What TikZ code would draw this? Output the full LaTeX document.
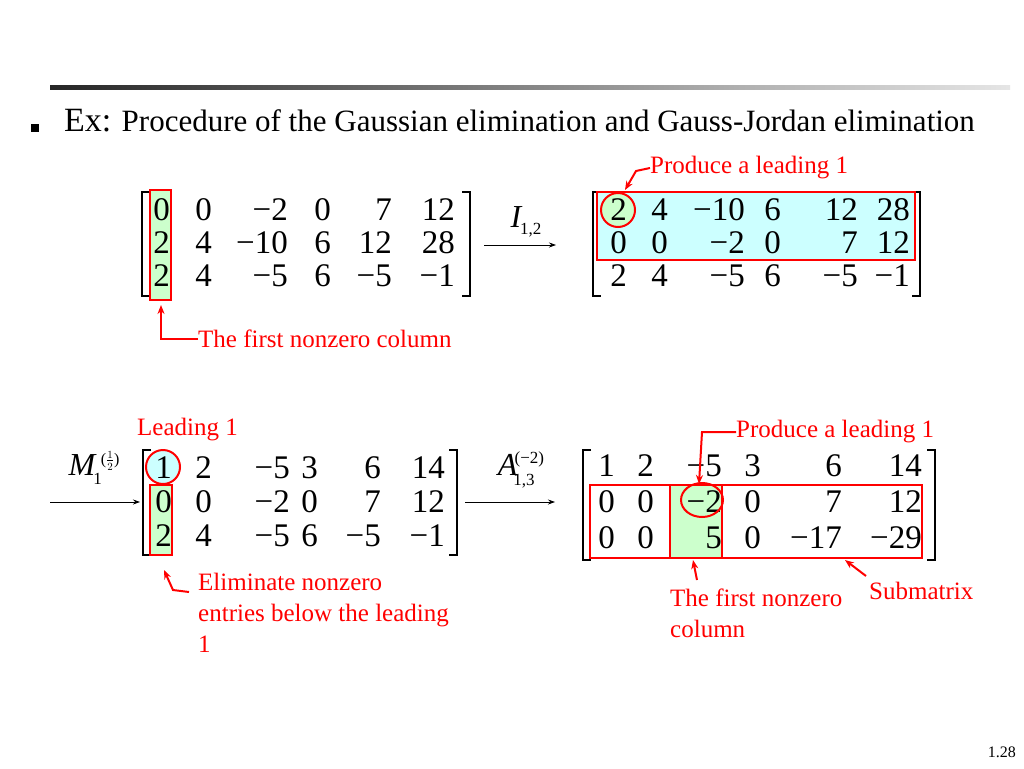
\documentclass[tikz,border=0pt]{standalone}
\usepackage{fontspec}
\setmainfont{Liberation Serif}
\usetikzlibrary{arrows.meta}
\definecolor{hired}{RGB}{255,0,0}
\definecolor{hicyan}{RGB}{204,255,255}
\definecolor{higreen}{RGB}{204,255,204}
\tikzset{
  ent/.style={anchor=east,inner sep=0pt,font=\fontsize{33}{33}\selectfont},
  opname/.style={inner sep=0pt,font=\fontsize{32}{32}\selectfont\itshape},
  note/.style={anchor=west,inner sep=0pt,text=hired,font=\fontsize{25}{31}\selectfont,align=left},
  brk/.style={line width=1.3pt},
  redbox/.style={draw=hired,line width=2pt},
  redarr/.style={draw=hired,line width=2pt,-{Stealth[length=9pt,width=7pt]}},
  oparr/.style={line width=0.8pt,-{Stealth[length=7pt,width=5pt]}},
}
\begin{document}
\begin{tikzpicture}[x=1pt,y=-1pt]
\useasboundingbox[fill=white] (0,0) rectangle (1024,768);
% Slide header
\shade[left color=black!85,right color=black!10] (50,85) rectangle (1010,89);
\fill (31,124) rectangle (39,132);
\node[anchor=base west,inner sep=0pt,font=\fontsize{34}{36}\selectfont] (title) at (64,131)
  {Ex:\fontsize{31}{36}\selectfont{} Procedure of the Gaussian elimination and Gauss-Jordan elimination};
% Highlights under the entries
\fill[higreen] (150,190) rectangle (171,300);
\fill[hicyan] (597,192) rectangle (915,260);
\fill[higreen] (618,210) circle (17);
\fill[hicyan] (163,467) circle (17);
\fill[higreen] (150,485) rectangle (172,555);
\fill[higreen] (670,485) rectangle (722,558);
% Matrix A
\foreach \row [count=\r] in {{0,0,−2,0,7,12},{2,4,−10,6,12,28},{2,4,−5,6,−5,−1}}
  \foreach \e [count=\c] in \row {
    \pgfmathsetmacro\xx{{170,212,288,331,392,455}[\c-1]}
    \node[ent] (a-\r-\c) at (\xx,{177+33*\r}) {\e};
  }
\draw[brk] (150,192) -- (142,192) -- (142,296) -- (150,296);
\draw[brk] (462,192) -- (470,192) -- (470,296) -- (462,296);
% Matrix B
\foreach \row [count=\r] in {{2,4,−10,6,12,28},{0,0,−2,0,7,12},{2,4,−5,6,−5,−1}}
  \foreach \e [count=\c] in \row {
    \pgfmathsetmacro\xx{{627,668,745,781,858,910}[\c-1]}
    \node[ent] (b-\r-\c) at (\xx,{177+33*\r}) {\e};
  }
\draw[brk] (601,192) -- (593,192) -- (593,296) -- (601,296);
\draw[brk] (912,192) -- (920,192) -- (920,296) -- (912,296);
% Matrix C
\foreach \row [count=\r] in {{1,2,−5,3,6,14},{0,0,−2,0,7,12},{2,4,−5,6,−5,−1}}
  \foreach \e [count=\c] in \row {
    \pgfmathsetmacro\xx{{172,212,290,318,381,445}[\c-1]}
    \node[ent] (c-\r-\c) at (\xx,{434+34*\r}) {\e};
  }
\draw[brk] (151,450) -- (143,450) -- (143,555) -- (151,555);
\draw[brk] (449,450) -- (457,450) -- (457,555) -- (449,555);
% Matrix D
\foreach \row [count=\r] in {{1,2,−5,3,6,14},{0,0,−2,0,7,12},{0,0,5,0,−17,−29}}
  \foreach \e [count=\c] in \row {
    \pgfmathsetmacro\xx{{615,654,722,761,842,922}[\c-1]}
    \node[ent] (d-\r-\c) at (\xx,{430+36*\r}) {\e};
  }
\draw[brk] (591,450) -- (583,450) -- (583,560) -- (591,560);
\draw[brk] (927,450) -- (935,450) -- (935,560) -- (927,560);
% Red frames and circles
\draw[redbox] (150,190) rectangle (171,300);
\draw[redbox] (597,192) rectangle (915,260);
\draw[redbox] (618,210) circle (17);
\draw[redbox] (163,467) circle (17);
\draw[redbox] (150,485) rectangle (172,555);
\draw[redbox] (590,485) rectangle (922,558);
\draw[redbox] (670,485) rectangle (722,558);
\draw[redbox] (702,500) ellipse (21 and 17);
% Row operations
\coordinate (op1s) at (484,245); \coordinate (op1e) at (556,245);
\draw[oparr] (op1s) -- (op1e);
\node[opname] (op1) at (526,222) {I\kern-1pt\raisebox{-7pt}{\fontsize{17}{17}\selectfont\upshape 1,2}};
\coordinate (op0s) at (50,502); \coordinate (op0e) at (140,502);
\draw[oparr] (op0s) -- (op0e);
\node[opname] (op0) at (94,468) {M\kern-2pt\raisebox{-9pt}{\fontsize{17}{17}\selectfont\upshape 1}\kern-1pt\raisebox{11pt}{\fontsize{16}{16}\selectfont\upshape ($\frac{1}{2}$)}};
\coordinate (op2s) at (465,502); \coordinate (op2e) at (555,502);
\draw[oparr] (op2s) -- (op2e);
\node[opname] (op2) at (521,470) {A\kern-4pt\raisebox{-10pt}{\fontsize{17}{17}\selectfont\upshape 1,3}\kern-20pt\raisebox{12pt}{\fontsize{17}{17}\selectfont\upshape (−2)}};
% Notes
\node[note] (n1) at (650,168) {Produce a leading 1};
\draw[redarr] (n1.west) -- ++(-14,3) -- (625,190);
\node[note] (n2) at (198,339) {The first nonzero column};
\draw[redarr] (n2.west) -- (161,339) -- (161,305);
\node[note] (n3) at (137,430) {Leading 1};
\node[note] (n4) at (736,432) {Produce a leading 1};
\draw[redarr] (n4.west) -- (702,432) -- (699,484);
\node[note,anchor=north west] (n5) at (198,573) {Eliminate nonzero\\entries below the leading\\1};
\draw[redarr] (189,592) -- (173,590) -- (164,570);
\node[note,anchor=north west] (n6) at (670,589) {The first nonzero\\column};
\draw[redarr] (697,580) -- (693,560);
\node[note] (n7) at (869,591) {Submatrix};
\draw[redarr] (866,576) -- (845,560);
% Page number
\node[anchor=east,inner sep=0pt,font=\fontsize{16}{16}\selectfont] (pg) at (1016,752) {1.28};
\end{tikzpicture}
\end{document}
